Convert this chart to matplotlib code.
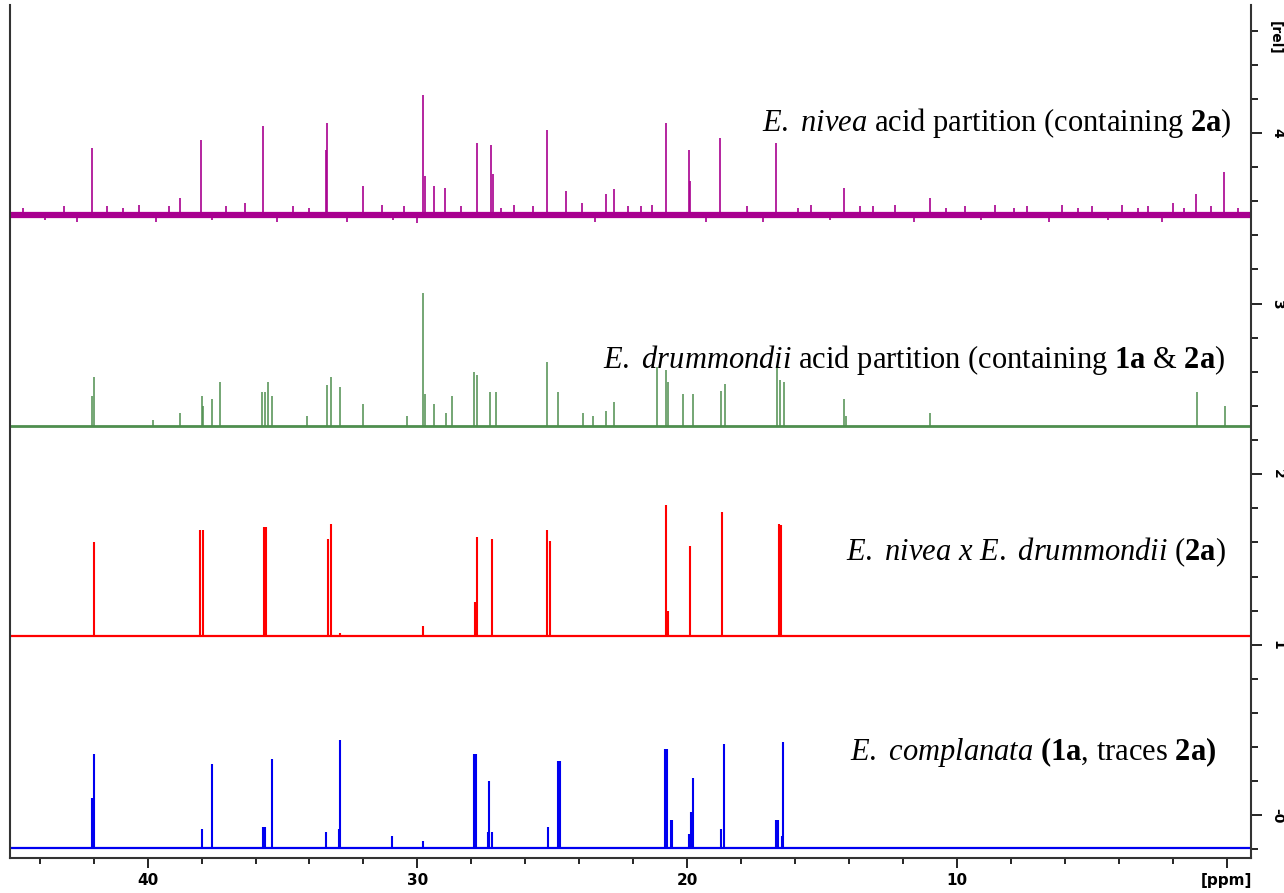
import numpy as np
import matplotlib.pyplot as plt
from matplotlib.ticker import MultipleLocator, FixedLocator, FixedFormatter

plt.rcParams['mathtext.fontset'] = 'custom'
plt.rcParams['mathtext.rm'] = 'Liberation Serif'
plt.rcParams['mathtext.it'] = 'Liberation Serif:italic'
plt.rcParams['mathtext.bf'] = 'Liberation Serif:bold'

# ----------------------------
# Peak lists (ppm, intensity above the baseline)
# ----------------------------
nivea_ppm = [42.05, 38.8, 38.03, 35.74, 33.4, 33.35, 32.0, 29.78, 29.7, 29.4,
             28.96, 27.8, 27.26, 27.2, 25.2, 24.5, 23.0, 22.7, 20.78, 19.93,
             19.88, 18.78, 16.7, 14.2, 11.0, 1.15, 0.1]
nivea_int = [0.39, 0.10, 0.44, 0.52, 0.38, 0.54, 0.17, 0.70, 0.23, 0.17,
             0.16, 0.42, 0.41, 0.24, 0.50, 0.14, 0.12, 0.15, 0.54, 0.38,
             0.20, 0.45, 0.42, 0.16, 0.10, 0.12, 0.25]
# small noise spikes on the E. nivea trace (up and down)
nivea_noise_ppm = [44.6, 43.8, 43.1, 42.6, 41.5, 40.9, 40.3, 39.7, 39.2, 37.6,
                   37.1, 36.4, 35.2, 34.6, 34.0, 32.6, 31.3, 30.9, 30.5, 30.0,
                   28.4, 26.9, 26.4, 25.7, 23.9, 23.4, 22.2, 21.7, 21.3, 19.3,
                   17.8, 17.2, 15.9, 15.4, 14.7, 13.6, 13.1, 12.3, 11.6, 10.4,
                   9.7, 9.1, 8.6, 7.9, 7.4, 6.6, 6.1, 5.5, 5.0, 4.4,
                   3.9, 3.3, 2.9, 2.4, 2.0, 1.6, 0.6, -0.4]
nivea_noise_int = [0.04, -0.03, 0.05, -0.04, 0.05, 0.04, 0.06, -0.04, 0.05, -0.03,
                   0.05, 0.07, -0.04, 0.05, 0.04, -0.04, 0.06, -0.03, 0.05, -0.05,
                   0.05, 0.04, 0.06, 0.05, 0.07, -0.04, 0.05, 0.05, 0.06, -0.04,
                   0.05, -0.04, 0.04, 0.06, -0.03, 0.05, 0.05, 0.06, -0.04, 0.04,
                   0.05, -0.03, 0.06, 0.04, 0.05, -0.04, 0.06, 0.04, 0.05, -0.03,
                   0.06, 0.04, 0.05, -0.04, 0.07, 0.04, 0.05, 0.04]

drumm_ppm = [42.07, 42.0, 39.8, 38.8, 38.0, 37.95, 37.6, 37.3, 35.75, 35.65,
             35.55, 35.4, 34.1, 33.35, 33.2, 32.85, 32.0, 30.4, 29.78, 29.7,
             29.4, 28.95, 28.7, 27.9, 27.8, 27.3, 27.1, 25.2, 24.8, 23.85,
             23.5, 23.0, 22.7, 21.1, 20.8, 20.7, 20.15, 19.8, 18.75, 18.6,
             16.67, 16.55, 16.4, 14.2, 14.1, 11.0, 1.1, 0.07]
drumm_int = [0.18, 0.29, 0.04, 0.08, 0.18, 0.12, 0.16, 0.26, 0.20, 0.20,
             0.26, 0.18, 0.06, 0.24, 0.29, 0.23, 0.13, 0.06, 0.78, 0.19,
             0.13, 0.08, 0.18, 0.32, 0.30, 0.20, 0.20, 0.38, 0.20, 0.08,
             0.06, 0.09, 0.14, 0.35, 0.33, 0.26, 0.19, 0.19, 0.21, 0.25,
             0.35, 0.27, 0.26, 0.16, 0.06, 0.08, 0.20, 0.12]

hybrid_ppm = [42.0, 38.05, 37.95, 35.7, 35.6, 33.3, 33.22, 32.85, 29.78,
              27.85, 27.8, 27.25, 25.2, 25.1, 20.8, 20.7, 19.9, 18.7, 16.6, 16.52]
hybrid_int = [0.55, 0.62, 0.62, 0.64, 0.64, 0.57, 0.66, 0.02, 0.06,
              0.20, 0.58, 0.57, 0.62, 0.56, 0.77, 0.15, 0.53, 0.73, 0.66, 0.65]

compl_ppm = [42.07, 42.0, 38.0, 37.6, 35.72, 35.65, 35.37, 33.4, 32.9, 32.85,
             30.95, 29.8, 27.9, 27.82, 27.4, 27.33, 27.25, 25.15, 24.78, 24.72,
             20.82, 20.75, 20.6, 20.55, 19.95, 19.85, 19.8, 18.75, 18.63,
             16.72, 16.65, 16.5, 16.45]
compl_int = [0.29, 0.55, 0.11, 0.49, 0.12, 0.12, 0.52, 0.09, 0.11, 0.63,
             0.07, 0.04, 0.55, 0.55, 0.09, 0.39, 0.09, 0.12, 0.51, 0.51,
             0.58, 0.58, 0.16, 0.16, 0.08, 0.21, 0.41, 0.11, 0.61,
             0.16, 0.16, 0.07, 0.62]

baselines = [3.52, 2.28, 1.05, -0.19]
colors = ['#a8008f', '#4e8e4e', '#ff0000', '#0000f0']
labels = [r"$\mathit{E.}$ $\mathit{nivea}$ acid partition (containing $\mathbf{2a}$)",
          r"$\mathit{E.}$ $\mathit{drummondii}$ acid partition (containing $\mathbf{1a}$ & $\mathbf{2a}$)",
          r"$\mathit{E.}$ $\mathit{nivea}$ $\mathit{x}$ $\mathit{E.}$ $\mathit{drummondii}$ ($\mathbf{2a}$)",
          r"$\mathit{E.}$ $\mathit{complanata}$ $\mathbf{(1a}$, traces $\mathbf{2a)}$"]
label_y = [4.06, 2.67, 1.54, 0.37]
label_x = [0.984, 0.979, 0.980, 0.972]

spectra = [(nivea_ppm + nivea_noise_ppm, nivea_int + nivea_noise_int),
           (drumm_ppm, drumm_int), (hybrid_ppm, hybrid_int), (compl_ppm, compl_int)]
base_lw = [4.5, 2.0, 1.6, 1.6]
peak_lw = [1.2, 1.1, 1.5, 1.5]

# ----------------------------
# Plot
# ----------------------------
fig = plt.figure(figsize=(12.84, 8.93), dpi=100)
ax = fig.add_axes([10 / 1284, 1 - 858 / 893, 1241 / 1284, 853 / 893])
ax.set_xlim(45.1, -0.9)
ax.set_ylim(-0.25, 4.75)

for (ppm, inten), b, c, blw, plw in zip(spectra, baselines, colors, base_lw, peak_lw):
    ppm = np.array(ppm)
    inten = np.array(inten)
    ax.axhline(b, color=c, lw=blw, solid_capstyle='butt')
    ax.vlines(ppm, b, b + inten, color=c, lw=plw)

for txt, y, x in zip(labels, label_y, label_x):
    ax.text(x, y, txt, transform=ax.get_yaxis_transform(), ha='right', va='center',
            fontsize=22, family='Liberation Serif')

# x axis
ax.xaxis.set_major_locator(FixedLocator([40, 30, 20, 10, 0]))
ax.xaxis.set_major_formatter(FixedFormatter(['40', '30', '20', '10', '[ppm]']))
ax.xaxis.set_minor_locator(MultipleLocator(2))
ax.tick_params(axis='x', which='major', direction='out', length=7, width=1.2,
               labelsize=11, pad=4)
ax.tick_params(axis='x', which='minor', direction='out', length=4, width=1.2)
for lb in ax.get_xticklabels():
    lb.set_fontweight('bold')
    lb.set_family(['Liberation Sans Narrow', 'DejaVu Sans'])

# y axis on the right
ax.yaxis.tick_right()
ax.yaxis.set_major_locator(FixedLocator([0, 1, 2, 3, 4]))
ax.yaxis.set_major_formatter(FixedFormatter(['-0', '1', '2', '3', '4']))
ax.yaxis.set_minor_locator(MultipleLocator(0.2))
ax.tick_params(axis='y', which='major', direction='out', length=8, width=1.2,
               labelsize=10, pad=6, labelrotation=-90)
ax.tick_params(axis='y', which='minor', direction='out', length=5, width=1.2)
for lb in ax.get_yticklabels():
    lb.set_fontweight('bold')
    lb.set_va('center')
ax.text(1.019, 4.56, '[rel]', transform=ax.get_yaxis_transform(), rotation=-90,
        ha='center', va='center', fontsize=10, fontweight='bold')

ax.spines['top'].set_visible(False)
for s in ['left', 'right', 'bottom']:
    ax.spines[s].set_linewidth(1.5)
    ax.spines[s].set_color('#333333')

fig.savefig('out.png', dpi=100)
